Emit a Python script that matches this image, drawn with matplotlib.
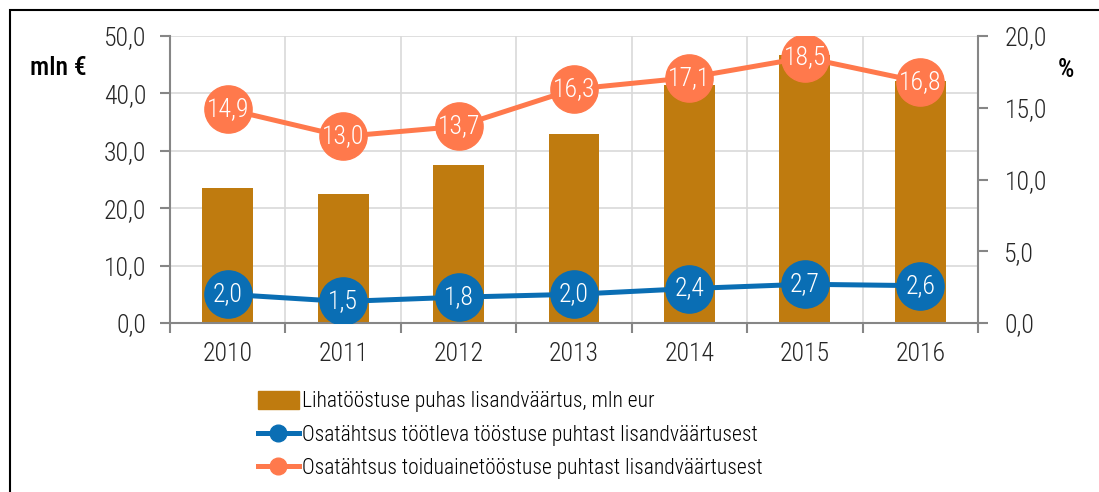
import matplotlib
matplotlib.use("Agg")
import matplotlib.pyplot as plt
from matplotlib import font_manager as fm
from matplotlib.patches import Rectangle
from matplotlib.lines import Line2D
import numpy as np

years = ["2010", "2011", "2012", "2013", "2014", "2015", "2016"]
meat_value = [23.6, 22.5, 27.6, 32.9, 41.4, 46.7, 42.2]
share_manuf = [2.0, 1.5, 1.8, 2.0, 2.4, 2.7, 2.6]
share_food = [14.9, 13.0, 13.7, 16.3, 17.1, 18.5, 16.8]
left_ticks = [0, 10, 20, 30, 40, 50]
right_ticks = [0, 5, 10, 15, 20]
legend_labels = ["Lihatööstuse puhas lisandväärtus, mln eur",
                 "Osatähtsus töötleva tööstuse puhtast lisandväärtusest",
                 "Osatähtsus toiduainetööstuse puhtast lisandväärtusest"]

names = {f.name for f in fm.fontManager.ttflist}
fam = "Roboto"
for cand in ["Roboto Condensed", "Liberation Sans Narrow", "Roboto"]:
    if cand in names:
        fam = cand
        break
plt.rcParams['font.family'] = [fam, 'DejaVu Sans']
plt.rcParams['font.weight'] = 'light'

BAR = "#BF7B0F"
BLUE = "#0A6EB4"
ORANGE = "#FF794C"
GRID = "#D9D9D9"
SPINE = "#868686"
TXT = "#262626"
FS = 18.5

fig = plt.figure(figsize=(10.99, 4.92), dpi=100)
ax = fig.add_axes([170/1099, 1-323/492, (978-170)/1099, (323-36)/492])
ax2 = ax.twinx()

x = np.arange(len(years))
ax.bar(x, meat_value, width=0.44, color=BAR, zorder=2)
ax.set_xlim(-0.5, len(years)-0.5)
ax.set_ylim(0, 50)
ax.set_yticks(left_ticks)
ax.set_yticklabels([f"{v:.1f}".replace(".", ",") for v in left_ticks])
ax.set_xticks(x)
ax.set_xticklabels(years)
ax.set_xticks(np.arange(-0.5, len(years)), minor=True)
ax.tick_params(axis='x', which='major', length=0, pad=14, labelsize=FS, colors=TXT)
ax.tick_params(axis='x', which='minor', length=7, width=1.5, color=SPINE, direction='out')
ax.tick_params(axis='y', length=7, width=1.5, color=SPINE, labelsize=FS, labelcolor=TXT, pad=10)
ax.grid(True, axis='y', color=GRID, lw=1.2, zorder=0)
ax.grid(True, axis='x', which='minor', color=GRID, lw=1.2, zorder=0)
ax.set_axisbelow(True)
ax.spines['top'].set_visible(False)
ax2.spines['top'].set_visible(False)
ax.spines['left'].set_color(SPINE)
ax.spines['left'].set_linewidth(1.5)
ax.spines['bottom'].set_color(SPINE)
ax.spines['bottom'].set_linewidth(1.5)
ax.spines['right'].set_visible(False)
ax2.spines['left'].set_visible(False)
ax2.spines['bottom'].set_visible(False)
ax2.spines['right'].set_color(SPINE)
ax2.spines['right'].set_linewidth(1.5)

ax2.set_ylim(0, 20)
ax2.set_yticks(right_ticks)
ax2.set_yticklabels([f"{v:.1f}".replace(".", ",") for v in right_ticks])
ax2.tick_params(axis='y', length=7, width=1.5, color=SPINE, labelsize=FS, labelcolor=TXT, pad=12)

ax2.plot(x, share_manuf, color=BLUE, lw=3.6, marker='o', ms=34, zorder=3, solid_capstyle='round')
ax2.plot(x, share_food, color=ORANGE, lw=3.6, marker='o', ms=34, zorder=3, solid_capstyle='round')
for xi, v in zip(x, share_manuf):
    ax2.text(xi, v, f"{v:.1f}".replace(".", ","), color="white", ha='center', va='center', fontsize=FS, zorder=5)
for xi, v in zip(x, share_food):
    ax2.text(xi, v, f"{v:.1f}".replace(".", ","), color="white", ha='center', va='center', fontsize=FS, zorder=5)

fig.text(58/1099, 1-68/492, "mln €", ha='center', va='center', fontsize=18.5, fontweight='medium', color='black')
fig.text(1066/1099, 1-70/492, "%", ha='center', va='center', fontsize=18.5, fontweight='medium', color='black')

handles = [Rectangle((0, 0), 1, 1, color=BAR),
           Line2D([], [], color=BLUE, lw=3.6, marker='o', ms=12),
           Line2D([], [], color=ORANGE, lw=3.6, marker='o', ms=12)]
fig.legend(handles, legend_labels, loc='upper left', bbox_to_anchor=(258/1099, 1-391/492),
           frameon=False, fontsize=15.5, handlelength=1.9, handletextpad=0.15, labelspacing=0.56,
           borderaxespad=0, borderpad=0, handleheight=0.9)

fig.add_artist(Rectangle((10/1099, -0.1), 1.2, 1-10/492+0.1, transform=fig.transFigure,
                         fill=False, edgecolor='black', lw=1.5))

fig.savefig("out.png", dpi=100)
